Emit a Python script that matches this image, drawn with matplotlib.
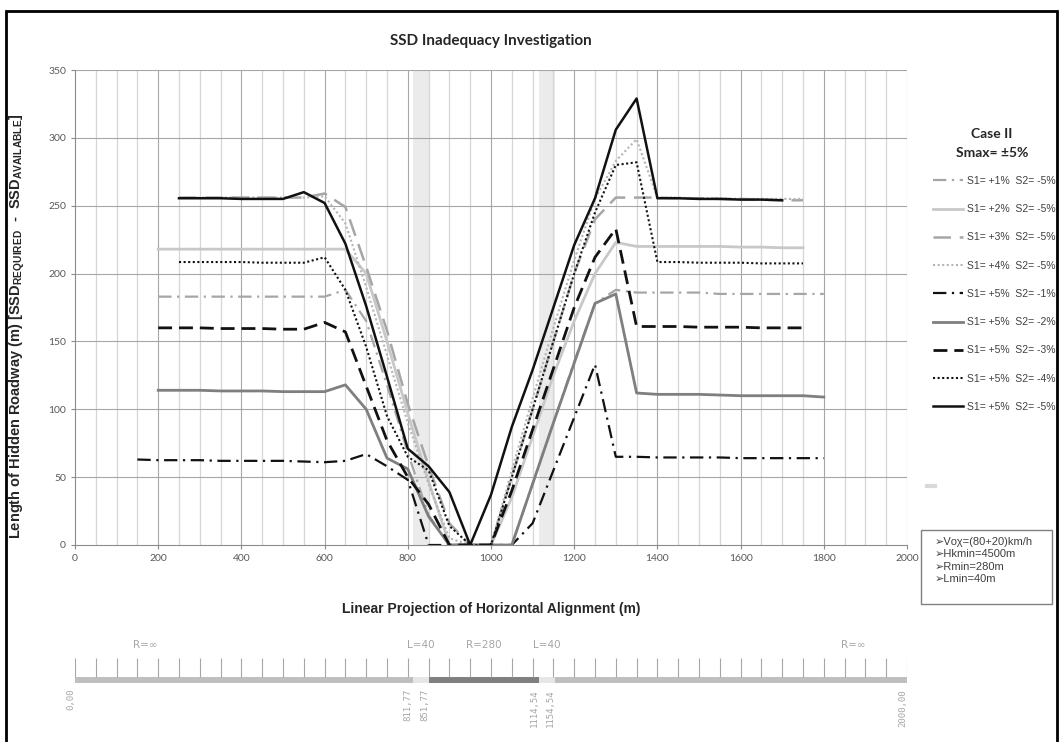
import numpy as np
import matplotlib
matplotlib.use("Agg")
import matplotlib.pyplot as plt
from matplotlib.lines import Line2D
from matplotlib.patches import Rectangle

nan = np.nan

# chainage of the computed points (m)
stations = [150, 200, 250, 300, 350, 400, 450, 500, 550, 600, 650, 700, 750, 800, 850, 900, 950,
            1000, 1050, 1100, 1150, 1200, 1250, 1300, 1350, 1400, 1450, 1500, 1550, 1600, 1650,
            1700, 1750, 1800]

# length of hidden roadway (m) per grade combination
s1p1_s2m5 = [nan, 183, 183, 183, 183, 183, 183, 183, 183, 183, 188, 165, 118, 68, 22, 0, 0,
             0, 0, 45, 90, 135, 178, 188, 186, 186, 186, 186, 185, 185, 185, 185, 185, 185]
s1p2_s2m5 = [nan, 218, 218, 218, 218, 218, 218, 218, 218, 218, 218, 200, 150, 97, 47, 0, 0,
             0, 35, 80, 125, 165, 200, 223, 220, 220, 220, 220, 220, 219.5, 219.5, 219, 219, nan]
s1p3_s2m5 = [nan, nan, 256, 256, 256, 256, 256, 256, 256, 259, 249, 205, 158, 104, 58, 16, 0,
             0, 50, 100, 150, 200, 240, 256, 256, 256, 255.5, 255.5, 255, 255, 254.5, 254, 254, nan]
s1p4_s2m5 = [nan, nan, 256, 256, 256, 256, 256, 256, 256, 257, 237, 190, 140, 90, 45, 5, 0,
             0, 55, 108, 160, 210, 255, 283, 299, 256, 256, 255.5, 255.5, 255, 255, 255, 255, nan]
s1p5_s2m1 = [63, 62.5, 62.5, 62.5, 62, 62, 62, 62, 61.5, 61, 62, 67, 58, 48, 0, 0, 0,
             0, 0, 16, 55, 94, 133, 65, 65, 64.5, 64.5, 64.5, 64.5, 64, 64, 64, 64, 64]
s1p5_s2m2 = [nan, 114, 114, 114, 113.5, 113.5, 113.5, 113, 113, 113, 118, 100, 64, 56, 21, 0, 0,
             0, 0, 45, 90, 134, 178, 185, 112, 111, 111, 111, 110.5, 110, 110, 110, 110, 109]
s1p5_s2m3 = [nan, 160, 160, 160, 159.5, 159.5, 159.5, 159, 159, 164, 157, 117, 77, 50, 30, 0, 0,
             0, 40, 85, 130, 175, 212, 233, 161, 161, 161, 160.5, 160.5, 160.5, 160, 160, 160, nan]
s1p5_s2m4 = [nan, nan, 208.5, 208.5, 208.5, 208.5, 208, 208, 208, 212, 188, 146, 95, 65, 55, 14, 0,
             0, 50, 100, 150, 200, 245, 280, 282, 208.5, 208.5, 208, 208, 208, 207.5, 207.5, 207.5, nan]
s1p5_s2m5 = [nan, nan, 255.5, 255.5, 255.5, 255, 255, 255, 260, 252, 222, 176, 124, 71, 58, 39, 0,
             37, 87, 129, 175, 221, 255.5, 306, 329, 255.5, 255.5, 255, 255, 254.5, 254.5, 254, nan, nan]

series_labels = ["S1= +1%  S2= -5%", "S1= +2%  S2= -5%", "S1= +3%  S2= -5%", "S1= +4%  S2= -5%",
                 "S1= +5%  S2= -1%", "S1= +5%  S2= -2%", "S1= +5%  S2= -3%", "S1= +5%  S2= -4%",
                 "S1= +5%  S2= -5%"]

# horizontal alignment (m)
align_bounds = [0, 811.77, 851.77, 1114.54, 1154.54, 2000]
align_bound_labels = ["0,00", "811,77", "851,77", "1114,54", "1154,54", "2000,00"]
align_names = ["R=\u221e", "L=40", "R=280", "L=40", "R=\u221e"]
align_name_pos = [170, 832, 983, 1134, 1870]

info_lines = ["\u27a2V\u03bf\u03c7=(80+20)km/h", "\u27a2Hkmin=4500m", "\u27a2Rmin=280m", "\u27a2Lmin=40m"]

W, H = 1061, 742
plt.rcParams["mathtext.fontset"] = "custom"
plt.rcParams["mathtext.rm"] = "Liberation Sans"
plt.rcParams["mathtext.bf"] = "Liberation Sans:bold"

fig = plt.figure(figsize=(W / 100, H / 100), dpi=100)
fig.patch.set_facecolor("white")

ax = fig.add_axes([75 / W, 1 - 545 / H, (907 - 75) / W, (545 - 70) / H])
ax.set_xlim(0, 2000)
ax.set_ylim(0, 350)

# transition curve zones (behind the grid)
ax.axvspan(align_bounds[1], align_bounds[2], color="#ebebeb", zorder=-1, lw=0)
ax.axvspan(align_bounds[3], align_bounds[4], color="#ebebeb", zorder=-1, lw=0)

# grid: light every 50 m, darker every 200 m
for xv in np.arange(50, 2001, 50):
    c = "#a6a6a6" if xv % 200 == 0 else "#d6d6d6"
    ax.axvline(xv, color=c, lw=0.9 if xv % 200 else 0.8, zorder=0)
for yv in np.arange(50, 351, 50):
    ax.axhline(yv, color="#a6a6a6", lw=0.8, zorder=0)

st = np.array(stations, dtype=float)
styles = [
    dict(color="#a6a6a6", lw=1.6, ls=(0, (6, 2.5, 1, 2.5))),
    dict(color="#c8c8c8", lw=2.0, ls="-"),
    dict(color="#a6a6a6", lw=1.8, ls=(0, (7, 3.5))),
    dict(color="#b4b4b4", lw=1.5, ls=(0, (1, 1.2))),
    dict(color="#111111", lw=1.6, ls=(0, (6, 2.5, 1, 2.5))),
    dict(color="#7f7f7f", lw=2.0, ls="-"),
    dict(color="#111111", lw=2.0, ls=(0, (5, 2.5))),
    dict(color="#111111", lw=1.5, ls=(0, (1, 1.2))),
    dict(color="#111111", lw=1.8, ls="-"),
]
all_series = [s1p1_s2m5, s1p2_s2m5, s1p3_s2m5, s1p4_s2m5, s1p5_s2m1,
              s1p5_s2m2, s1p5_s2m3, s1p5_s2m4, s1p5_s2m5]
handles = []
for vals, lab, sty in zip(all_series, series_labels, styles):
    ln, = ax.plot(st, np.array(vals, dtype=float), label=lab, zorder=2, **sty)
    handles.append(ln)

ax.set_xticks(np.arange(0, 2001, 200))
ax.set_yticks(np.arange(0, 351, 50))
for sp in ["top", "right"]:
    ax.spines[sp].set_visible(False)
for sp in ["left", "bottom"]:
    ax.spines[sp].set_color("#8c8c8c")
    ax.spines[sp].set_linewidth(0.8)
ax.tick_params(axis="both", colors="#8c8c8c", labelcolor="#595959", labelsize=7.5, length=3, width=0.8)
for t in ax.get_xticklabels() + ax.get_yticklabels():
    t.set_family("Lato")

ax.set_title("SSD Inadequacy Investigation", fontsize=11, fontweight="bold", family="Lato",
             color="#262626", pad=18)
ax.set_xlabel("Linear Projection of Horizontal Alignment (m)", fontsize=10, fontweight="bold",
              family=["Liberation Sans Narrow", "Liberation Sans"], color="#262626", labelpad=28)
ax.set_ylabel(r"Length of Hidden Roadway (m) [SSD$_{\mathbf{REQUIRED}}$  -  SSD$_{\mathbf{AVAILABLE}}$]",
              fontsize=10.5, fontweight="bold", family="Liberation Sans", color="#262626")
ax.yaxis.set_label_coords(-0.058, 0.46)

# legend
fig.text(992 / W, 1 - 134 / H, "Case II", ha="center", va="center", fontsize=10,
         fontweight="bold", family="Lato", color="#262626")
fig.text(992 / W, 1 - 153 / H, "Smax= \u00b15%", ha="center", va="center", fontsize=10,
         fontweight="bold", family="Lato", color="#262626")
fig.legend(handles=handles, loc="upper left", bbox_to_anchor=(933 / W, 1 - 176 / H),
           frameon=False, labelspacing=1.75, handlelength=2.9, handletextpad=0.4,
           borderpad=0, borderaxespad=0, labelcolor="#404040",
           prop={"family": "Liberation Sans", "size": 7.5})
fig.add_artist(Line2D([927 / W, 935 / W], [1 - 486 / H, 1 - 486 / H], color="#d9d9d9", lw=3,
                      transform=fig.transFigure))

# info box
fig.add_artist(Rectangle((921 / W, 1 - 604 / H), (1052 - 921) / W, (604 - 530) / H,
                         transform=fig.transFigure, fill=False, ec="#808080", lw=1))
fig.text(935 / W, 1 - 537 / H, "\n".join(info_lines), ha="left", va="top", fontsize=8,
         family=["Liberation Sans", "DejaVu Sans"], color="#404040", linespacing=1.3)

# horizontal alignment strip
ax2 = fig.add_axes([75 / W, 0, (907 - 75) / W, 112 / H])
ax2.set_xlim(0, 2000)
ax2.set_ylim(0, 112)
ax2.axis("off")
seg_colors = ["#bfbfbf", "#e6e6e6", "#808080", "#e6e6e6", "#bfbfbf"]
for i in range(len(align_bounds) - 1):
    ax2.broken_barh([(align_bounds[i], align_bounds[i + 1] - align_bounds[i])], (59, 6),
                    facecolors=seg_colors[i])
ax2.vlines(np.arange(0, 2001, 50), 65, 84, color="#a6a6a6", lw=0.8)
for xv, lab in zip(align_name_pos, align_names):
    ax2.text(xv, 97, lab, ha="center", va="center", fontsize=7.5, color="#a6a6a6",
             family=["Liberation Sans Narrow", "DejaVu Sans"])
for xv, lab in zip(align_bounds, align_bound_labels):
    ax2.text(xv, 53, lab, ha="right", va="top", rotation=90, fontsize=6.5, color="#a6a6a6",
             family="DejaVu Sans Mono")

# outer frame
fig.add_artist(Rectangle((6 / W, -0.05), (1057 - 6) / W, 1.05 - 11 / H, transform=fig.transFigure,
                         fill=False, ec="black", lw=2))

fig.savefig("out.png", dpi=100)
